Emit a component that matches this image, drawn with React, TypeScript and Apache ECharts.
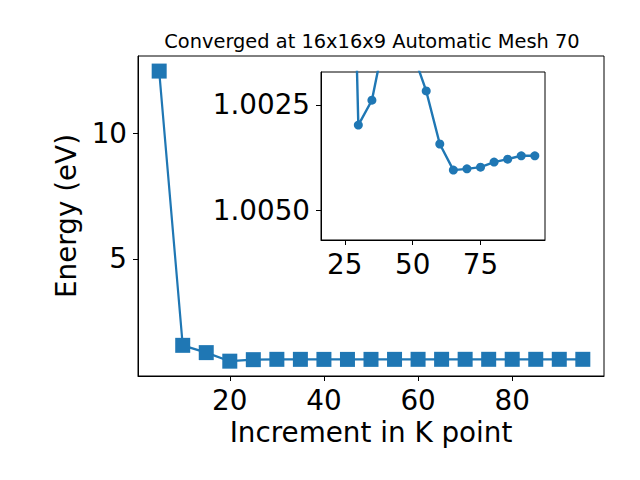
import React, { useEffect, useRef } from "react";
import * as echarts from "echarts";

const kPoints = [5, 10, 15, 20, 25, 30, 35, 40, 45, 50, 55, 60, 65, 70, 75, 80, 85, 90, 95];
const energies = [12.47, 1.56, 1.27, 0.93, 0.99, 1.00298, 1.00239, 1.0008, 1.0005, 1.00125, 1.00217, 1.00343, 1.00405, 1.00402, 1.00398, 1.00386, 1.00379, 1.00371, 1.00371];
const insetK = kPoints.slice(3);
const insetE = energies.slice(3);
const mainXTicks = [20, 40, 60, 80];
const mainYTicks = [5, 10];
const insetXTicks = [25, 50, 75];
const insetYTicks = [1.0025, 1.005];

const FONT = "DejaVu Sans";
const BLUE = "#1f77b4";

export default function App() {
  const ref = useRef<HTMLDivElement>(null);
  useEffect(() => {
    if (!ref.current) return;
    const chart = echarts.init(ref.current, null, { renderer: "svg" });
    const tickStyle = { show: true, inside: false, length: 5, lineStyle: { color: "#000", width: 1 } };
    const lineStyle = { show: true, onZero: false, lineStyle: { color: "#000", width: 1 } };
    const label = { fontFamily: FONT, fontSize: 27.8, color: "#000" };
    chart.setOption({
      animation: false,
      backgroundColor: "#fff",
      title: {
        text: "Converged at 16x16x9 Automatic Mesh 70",
        left: 367,
        top: 27,
        textAlign: "center",
        textStyle: { fontFamily: FONT, fontSize: 19.4, fontWeight: "normal", color: "#000" },
      },
      grid: [
        { left: 138, top: 56, width: 466, height: 320, show: true, borderColor: "#000", borderWidth: 1, backgroundColor: "#fff" },
        { left: 321, top: 72, width: 224, height: 168, show: true, borderColor: "#000", borderWidth: 1, backgroundColor: "#fff", z: 10 },
      ],
      xAxis: [
        {
          type: "value", gridIndex: 0, min: 0.5, max: 99.5,
          splitLine: { show: false }, axisLine: lineStyle,
          axisTick: { ...tickStyle, customValues: mainXTicks },
          axisLabel: { ...label, margin: 10, customValues: mainXTicks },
          name: "Increment in K point", nameLocation: "middle", nameGap: 40,
          nameTextStyle: { fontFamily: FONT, fontSize: 27.8, color: "#000" },
        },
        {
          type: "value", gridIndex: 1, min: 16.25, max: 98.75, z: 10,
          splitLine: { show: false }, axisLine: lineStyle,
          axisTick: { ...tickStyle, customValues: insetXTicks },
          axisLabel: { ...label, margin: 10, customValues: insetXTicks },
        },
      ],
      yAxis: [
        {
          type: "value", gridIndex: 0, min: 0.34, max: 13.07,
          splitLine: { show: false }, axisLine: lineStyle,
          axisTick: { ...tickStyle, customValues: mainYTicks },
          axisLabel: { ...label, margin: 11, customValues: mainYTicks },
          name: "Energy (eV)", nameLocation: "middle", nameGap: 45, nameRotate: 90,
          nameTextStyle: { fontFamily: FONT, fontSize: 27.8, color: "#000" },
        },
        {
          type: "value", gridIndex: 1, min: 1.00172, max: 1.00571, inverse: true, z: 10,
          splitLine: { show: false }, axisLine: lineStyle,
          axisTick: { ...tickStyle, customValues: insetYTicks },
          axisLabel: { ...label, margin: 11, customValues: insetYTicks, formatter: (v: number) => v.toFixed(4) },
        },
      ],
      series: [
        {
          type: "line", xAxisIndex: 0, yAxisIndex: 0,
          data: kPoints.map((k, i) => [k, energies[i]]),
          symbol: "rect", symbolSize: 15,
          lineStyle: { color: BLUE, width: 2.2 },
          itemStyle: { color: BLUE },
        },
        {
          type: "line", xAxisIndex: 1, yAxisIndex: 1, z: 12, clip: true,
          data: insetK.map((k, i) => [k, insetE[i]]),
          symbol: "circle", symbolSize: 9,
          lineStyle: { color: BLUE, width: 2.4 },
          itemStyle: { color: BLUE },
        },
      ],
    });
    return () => chart.dispose();
  }, []);
  return <div ref={ref} style={{ position: "fixed", left: 0, top: 0, width: 640, height: 480 }} />;
}
